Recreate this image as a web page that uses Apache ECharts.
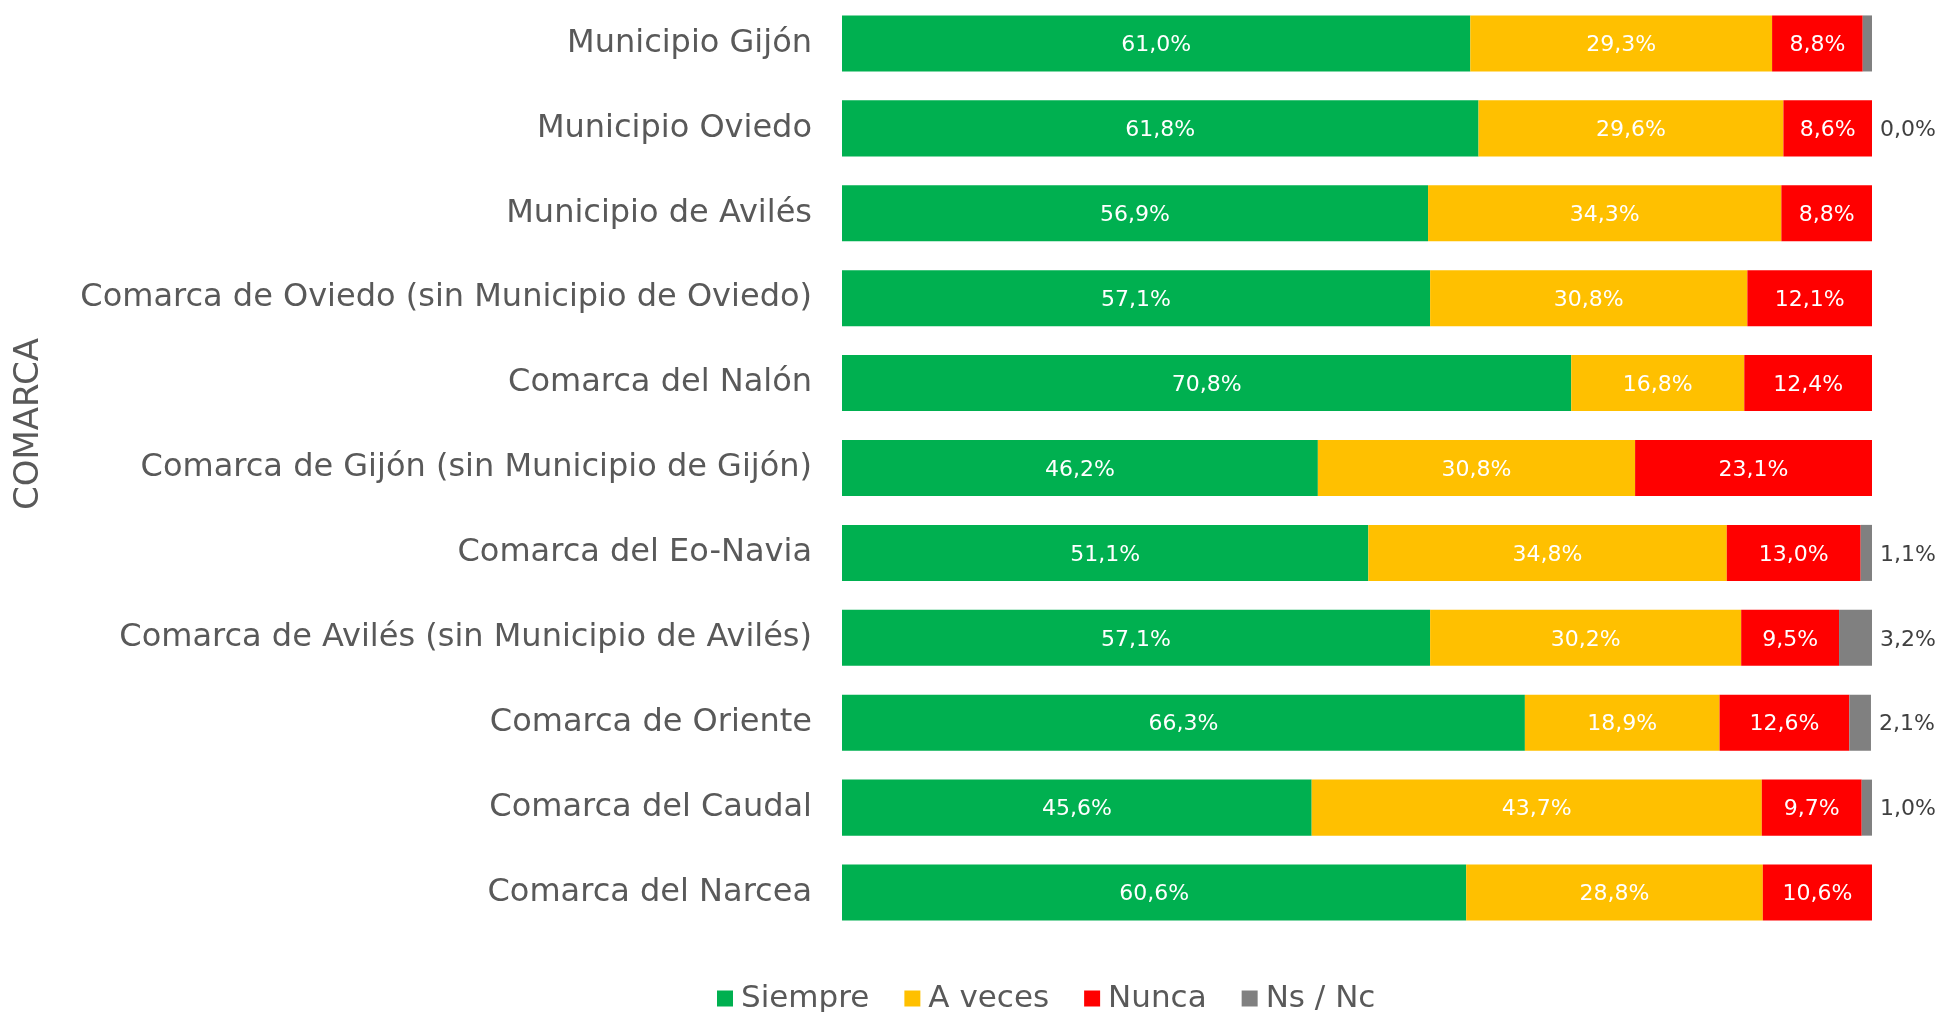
<!DOCTYPE html>
<html>
<head>
<meta charset="utf-8">
<script src="https://cdn.jsdelivr.net/npm/echarts@6/dist/echarts.min.js"></script>
<style>
  html, body { margin: 0; padding: 0; background: #fff; }
  #chart { width: 1946px; height: 1012px; }
</style>
</head>
<body>
<div id="chart"></div>
<script>
const categories = [
  "Municipio Gijón",
  "Municipio Oviedo",
  "Municipio de Avilés",
  "Comarca de Oviedo (sin Municipio de Oviedo)",
  "Comarca del Nalón",
  "Comarca de Gijón (sin Municipio de Gijón)",
  "Comarca del Eo-Navia",
  "Comarca de Avilés (sin Municipio de Avilés)",
  "Comarca de Oriente",
  "Comarca del Caudal",
  "Comarca del Narcea",
]
const siempre = [61.0, 61.8, 56.9, 57.1, 70.8, 46.2, 51.1, 57.1, 66.3, 45.6, 60.6]
const aVeces = [29.3, 29.6, 34.3, 30.8, 16.8, 30.8, 34.8, 30.2, 18.9, 43.7, 28.8]
const nunca = [8.8, 8.6, 8.8, 12.1, 12.4, 23.1, 13.0, 9.5, 12.6, 9.7, 10.6]
const nsNc = [0.9, 0.0, null, null, null, null, 1.1, 3.2, 2.1, 1.0, null]
// Ns/Nc labels shown in the original (Gijón's 0,9% is not labelled)
const nsNcLabelled = [false, true, false, false, false, false, true, true, true, true, false]

const FONT = "'Century Gothic', 'DejaVu Sans', sans-serif"
const fmt = (v) => v.toFixed(1).replace(".", ",") + "%"

let myChart = echarts.init(document.getElementById("chart"))

const inner = (name, data, color) => ({
  name: name,
  type: "bar",
  stack: "total",
  barCategoryGap: "34%",
  itemStyle: { color: color },
  label: {
    show: true,
    position: "inside",
    offset: [0, 2],
    color: "#ffffff",
    fontFamily: FONT,
    fontSize: 22,
    formatter: (p) => fmt(p.value),
  },
  data: data,
})

myChart.setOption({
  animation: false,
  textStyle: { fontFamily: FONT },
  grid: {
    left: 842,
    right: 74,
    top: 1,
    height: 934,
    containLabel: false,
  },
  legend: {
    left: 712,
    top: 978,
    icon: "rect",
    itemWidth: 16,
    itemHeight: 16,
    itemGap: 35,
    textStyle: { fontFamily: FONT, fontSize: 31, color: "#595959", padding: [0, 0, 0, 3] },
    data: ["Siempre", "A veces", "Nunca", "Ns / Nc"],
  },
  xAxis: {
    type: "value",
    min: 0,
    max: 100,
    show: false,
  },
  yAxis: {
    type: "category",
    inverse: true,
    data: categories,
    axisLine: { show: false },
    axisTick: { show: false },
    axisLabel: {
      margin: 30,
      padding: [5, 0, 0, 0],
      fontFamily: FONT,
      fontSize: 32,
      color: "#595959",
    },
  },
  graphic: [
    {
      type: "text",
      left: 12,
      top: 338,
      rotation: Math.PI / 2,
      style: {
        text: "COMARCA",
        fontFamily: FONT,
        fontSize: 34,
        fill: "#595959",
      },
    },
  ],
  series: [
    inner("Siempre", siempre, "#00B050"),
    inner("A veces", aVeces, "#FFC000"),
    inner("Nunca", nunca, "#FF0000"),
    {
      name: "Ns / Nc",
      type: "bar",
      stack: "total",
      barCategoryGap: "34%",
      itemStyle: { color: "#808080" },
      data: nsNc.map((v, i) => ({
        value: v,
        label: {
          show: v !== null && nsNcLabelled[i],
          position: "right",
          distance: 8,
          offset: [0, 2],
          color: "#404040",
          fontFamily: FONT,
          fontSize: 22,
          formatter: (p) => fmt(p.value),
        },
      })),
    },
  ],
})

window.addEventListener("resize", () => {
  myChart.resize()
})
</script>
</body>
</html>
